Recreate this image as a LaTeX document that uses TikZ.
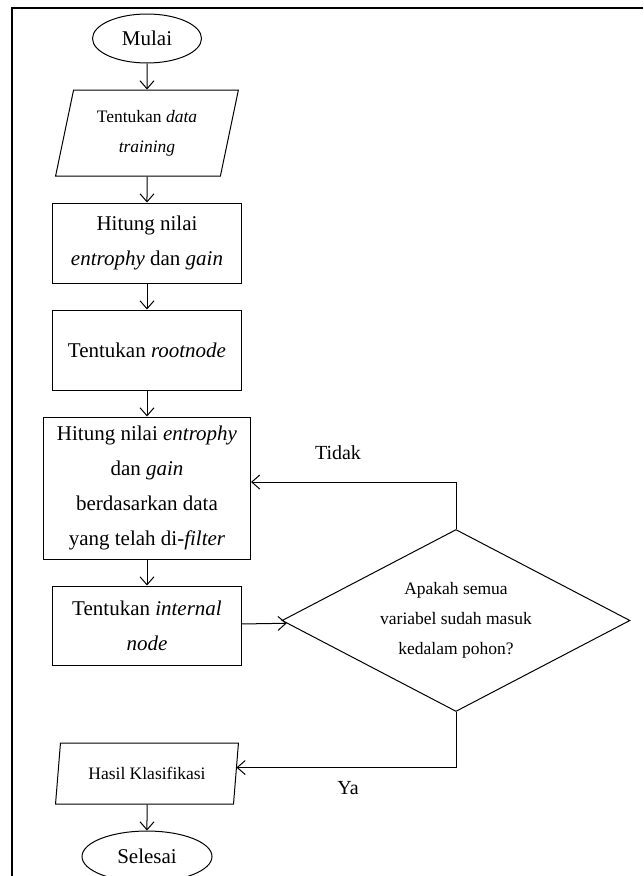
\documentclass[tikz,border=0pt]{standalone}
\usepackage{fontspec}
\setmainfont{Liberation Serif}
\usetikzlibrary{arrows.meta,positioning,shapes.geometric}

\begin{document}
\begin{tikzpicture}[->,>={Straight Barb[length=8pt,width=14pt]},x=1pt,y=1pt,
                    node distance=26pt,line width=1pt]
  \tikzstyle{every node}=[font=\fontsize{21}{35}\selectfont,align=center]
  \tikzstyle{terminal}=[draw,ellipse,inner sep=0pt]
  \tikzstyle{io}=[draw,trapezium,trapezium left angle=75,trapezium right angle=105,
                  trapezium stretches=true,inner sep=0pt,minimum width=183pt,
                  font=\fontsize{17.5}{30}\selectfont]
  \tikzstyle{process}=[draw,rectangle,inner sep=0pt,minimum width=189pt]
  \tikzstyle{decision}=[draw,diamond,aspect=1.9,inner sep=0pt,minimum width=348pt,
                        minimum height=182pt,font=\fontsize{17.5}{30}\selectfont]
  \tikzstyle{answer}=[font=\fontsize{20}{24}\selectfont]

  \useasboundingbox (0,0) rectangle (643,-876);
  \draw[-,line width=1.6pt] (643,-8) -- (12,-8) -- (12,-876);

  \node[terminal,minimum width=109pt,minimum height=49pt] (mulai) at (147,-38.5) {Mulai};
  \node[io,minimum height=86pt]       (data)     [below=of mulai]    {Tentukan \textit{data}\\\textit{training}};
  \node[process,minimum height=80pt]  (hitung)   [below=of data]     {Hitung nilai\\\textit{entrophy} dan \textit{gain}};
  \node[process,minimum height=80pt]  (root)     [below=of hitung]   {Tentukan \textit{rootnode}};
  \node[process,minimum width=207pt,minimum height=142pt]
                                      (filter)   [below=of root]     {Hitung nilai \textit{entrophy}\\dan \textit{gain}\\berdasarkan data\\yang telah di-\textit{filter}};
  \node[process,minimum height=79pt]  (internal) [below=of filter]   {Tentukan \textit{internal}\\\textit{node}};
  \node[decision]                     (semua)    at (456,-620.5)     {Apakah semua\\variabel sudah masuk\\kedalam pohon?};
  \node[io,minimum height=61pt]       (hasil)    [below=77pt of internal] {Hasil Klasifikasi};
  \node[terminal,minimum width=130pt,minimum height=51pt] (selesai) [below=of hasil] {Selesai};

  \node[answer] (tidak) at (338,-453) {Tidak};
  \node[answer] (ya)    at (348,-788) {Ya};

  \path (mulai)    edge (data)
        (data)     edge (hitung)
        (hitung)   edge (root)
        (root)     edge (filter)
        (filter)   edge (internal)
        (internal) edge (semua)
        (hasil)    edge (selesai);
  % Tidak / Ya
  \draw (semua.north) |- ([yshift=6pt]filter.east);
  \draw (semua.south) |- ([yshift=6pt]hasil.east);
\end{tikzpicture}
\end{document}
